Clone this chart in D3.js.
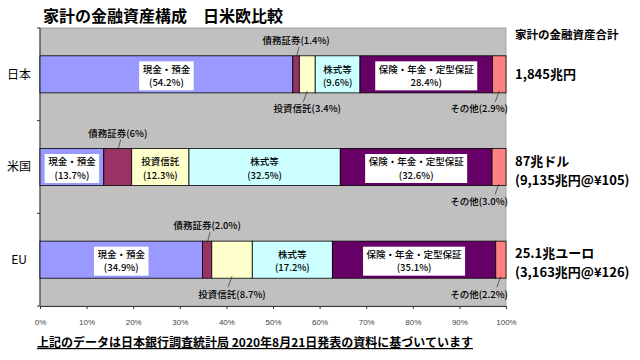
<!DOCTYPE html>
<html>
<head>
<meta charset="utf-8">
<script src="https://cdn.jsdelivr.net/npm/d3@7"></script>
<style>
  body { margin: 0; background: #fff; }
  svg { display: block; font-family: "Noto Sans CJK JP", sans-serif; }
</style>
</head>
<body>
<div class="graph"></div>
<script>
const countries = ["日本", "米国", "EU"];
const assetTypes = ["現金・預金", "債務証券", "投資信託", "株式等", "保険・年金・定型保証", "その他"];
// shares in %, kept as printed in the source
const japanShares = ["54.2", "1.4", "3.4", "9.6", "28.4", "2.9"];
const usShares = ["13.7", "6", "12.3", "32.5", "32.6", "3.0"];
const euShares = ["34.9", "2.0", "8.7", "17.2", "35.1", "2.2"];
const totalsTitle = "家計の金融資産合計";
const totalsLine1 = ["1,845兆円", "87兆ドル", "25.1兆ユーロ"];
const totalsLine2 = ["", "(9,135兆円@¥105)", "(3,163兆円@¥126)"];
const xTicks = [0, 0.1, 0.2, 0.3, 0.4, 0.5, 0.6, 0.7, 0.8, 0.9, 1];

const width = 640;
const height = 360;
const margin = { top: 28, right: 134, bottom: 54, left: 40 };

const colors = ["#9999ff", "#993366", "#ffffcc", "#ccffff", "#660066", "#ff8080"];

const shares = [japanShares, usShares, euShares];
const table = countries.map((c, i) => {
  const row = { country: c };
  assetTypes.forEach((a, j) => (row[a] = +shares[i][j]));
  return row;
});

const series = d3.stack().keys(assetTypes).offset(d3.stackOffsetExpand)(table);

const x = d3.scaleLinear().domain([0, 1]).range([margin.left, width - margin.right]);
const y = d3.scaleBand()
  .domain(countries)
  .range([margin.top, height - margin.bottom])
  .paddingInner(0.6)
  .paddingOuter(0.3);

const svg = d3.select(".graph")
  .append("svg")
  .attr("width", width)
  .attr("height", height)
  .attr("viewBox", [0, 0, width, height]);

// title
svg.append("text")
  .attr("x", 43)
  .attr("y", 22)
  .attr("font-size", 16)
  .attr("font-weight", "bold")
  .text("家計の金融資産構成　日米欧比較");

// plot background
svg.append("rect")
  .attr("x", x(0))
  .attr("y", margin.top)
  .attr("width", x(1) - x(0))
  .attr("height", height - margin.bottom - margin.top)
  .attr("fill", "#c0c0c0")
  .attr("stroke", "#999")
  .attr("stroke-width", 0.8);

// x axis
const xAxis = svg.append("g")
  .attr("transform", `translate(0,${height - margin.bottom})`)
  .call(d3.axisBottom(x).tickValues(xTicks).tickFormat(d3.format(".0%")).tickSize(3).tickSizeOuter(0));
xAxis.select(".domain").attr("stroke", "#333");
xAxis.selectAll(".tick line").attr("stroke", "#333");
xAxis.selectAll("text")
  .attr("font-size", 8)
  .attr("fill", "#444")
  .attr("dy", "1.6em")
  .attr("font-family", "Liberation Sans, sans-serif");

// y axis line with band-boundary ticks
svg.append("line")
  .attr("x1", x(0)).attr("x2", x(0))
  .attr("y1", margin.top).attr("y2", height - margin.bottom)
  .attr("stroke", "#333");
const step = y.step();
svg.append("g")
  .selectAll("line")
  .data([0, 1, 2, 3])
  .join("line")
  .attr("x1", x(0) - 3).attr("x2", x(0))
  .attr("y1", (d) => margin.top + d * step)
  .attr("y2", (d) => margin.top + d * step)
  .attr("stroke", "#333");

// category labels
svg.append("g")
  .selectAll("text")
  .data(countries)
  .join("text")
  .attr("x", 19)
  .attr("y", (d) => y(d) + y.bandwidth() / 2)
  .attr("dy", "0.36em")
  .attr("text-anchor", "middle")
  .attr("font-size", 12)
  .text((d) => d);

// segments
svg.append("g")
  .selectAll("g")
  .data(series)
  .join("g")
  .attr("fill", (d, i) => colors[i])
  .selectAll("rect")
  .data((d) => d)
  .join("rect")
  .attr("x", (d) => x(d[0]))
  .attr("y", (d) => y(d.data.country))
  .attr("width", (d) => x(d[1]) - x(d[0]))
  .attr("height", y.bandwidth())
  .attr("stroke", "#000")
  .attr("stroke-width", 0.8);

// labels
const labelSize = 9.5;
const lineGap = 13.5;
const labels = svg.append("g").attr("font-size", labelSize).attr("font-weight", 500);
const measure = (t) => {
  const n = labels.append("text").text(t);
  const w = n.node().getComputedTextLength();
  n.remove();
  return w;
};

series.forEach((s, si) => {
  const name = assetTypes[si];
  s.forEach((d, ci) => {
    const raw = shares[ci][si];
    const pct = `(${raw}%)`;
    const x0 = x(d[0]);
    const x1 = x(d[1]);
    const cx = (x0 + x1) / 2;
    const top = y(d.data.country);
    const bottom = top + y.bandwidth();
    const cy = top + y.bandwidth() / 2;
    const nameW = measure(name);

    if (x1 - x0 > nameW + 6) {
      // inside, two lines
      const pctText = name === "保険・年金・定型保証" && ci === 0 ? `${raw}%)` : pct;
      const boxW = Math.max(nameW, measure(pctText)) + 7;
      if (d3.hsl(colors[si]).l < 0.85) {
        labels.append("rect")
          .attr("x", cx - boxW / 2)
          .attr("y", cy - 13)
          .attr("width", boxW)
          .attr("height", 29)
          .attr("fill", "#fff");
      }
      const t = labels.append("text")
        .attr("x", cx).attr("y", cy - 5)
        .attr("text-anchor", "middle");
      t.append("tspan").attr("x", cx).attr("dy", "0.35em").text(name);
      t.append("tspan").attr("x", cx).attr("dy", lineGap).text(pctText);
    } else {
      // outside with a leader line
      const text = name + pct;
      const w = measure(text);
      const above = name === "債務証券";
      let tx = cx;
      if (tx + w / 2 > x(1) + 2) tx = x(1) + 2 - w / 2;
      const ty = above ? top - 15 : bottom + 16;
      labels.append("line")
        .attr("x1", cx).attr("y1", above ? top + 2 : bottom - 2)
        .attr("x2", above ? cx + 3 : cx - 4)
        .attr("y2", above ? ty + 6 : ty - 7)
        .attr("stroke", "#333")
        .attr("stroke-width", 0.7);
      labels.append("text")
        .attr("x", tx).attr("y", ty).attr("dy", "0.35em")
        .attr("text-anchor", "middle")
        .text(text);
    }
  });
});

// totals on the right
const rx = 515;
svg.append("text")
  .attr("x", rx).attr("y", 39)
  .attr("font-size", 11.5)
  .attr("font-weight", "bold")
  .text(totalsTitle);
svg.append("g")
  .selectAll("g")
  .data(countries)
  .join("g")
  .each(function (c, i) {
    const g = d3.select(this);
    const cy = y(c) + y.bandwidth() / 2;
    const two = totalsLine2[i] !== "";
    const t = g.append("text")
      .attr("x", rx).attr("y", two ? cy - 6 : cy)
      .attr("font-size", 13)
      .attr("font-weight", "bold");
    t.append("tspan").attr("x", rx).attr("dy", "0.36em").text(totalsLine1[i]);
    if (two) t.append("tspan").attr("x", rx).attr("dy", 19).text(totalsLine2[i]);
  });

// source note
svg.append("text")
  .attr("x", 37)
  .attr("y", 347)
  .attr("font-size", 12)
  .attr("font-weight", "bold")
  .attr("text-decoration", "underline")
  .text("上記のデータは日本銀行調査統計局 2020年8月21日発表の資料に基づいています");
</script>
</body>
</html>
